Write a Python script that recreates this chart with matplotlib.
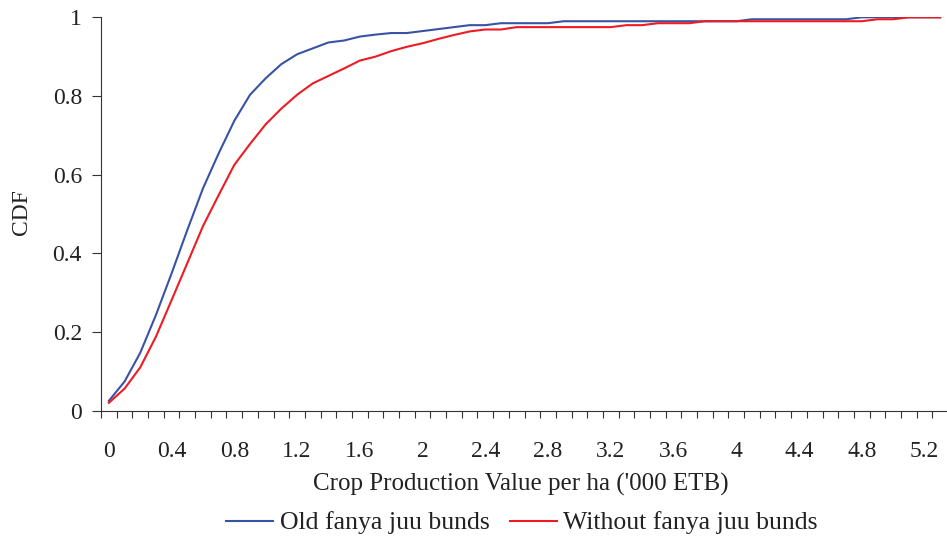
import matplotlib
matplotlib.use("Agg")
import matplotlib.pyplot as plt

categories = ["0", "0.1", "0.2", "0.3", "0.4", "0.5", "0.6", "0.7", "0.8", "0.9",
              "1", "1.1", "1.2", "1.3", "1.4", "1.5", "1.6", "1.7", "1.8", "1.9",
              "2", "2.1", "2.2", "2.3", "2.4", "2.5", "2.6", "2.7", "2.8", "2.9",
              "3", "3.1", "3.2", "3.3", "3.4", "3.5", "3.6", "3.7", "3.8", "3.9",
              "4", "4.1", "4.2", "4.3", "4.4", "4.5", "4.6", "4.7", "4.8", "4.9",
              "5", "5.1", "5.2", "5.3"]

old_bunds = [0.025, 0.074, 0.147, 0.243, 0.349, 0.459, 0.565, 0.654, 0.737, 0.803,
             0.845, 0.881, 0.906, 0.921, 0.936, 0.941, 0.951, 0.956, 0.960, 0.960,
             0.965, 0.970, 0.975, 0.980, 0.980, 0.985, 0.985, 0.985, 0.985, 0.990,
             0.990, 0.990, 0.990, 0.990, 0.990, 0.990, 0.990, 0.990, 0.990, 0.990,
             0.990, 0.995, 0.995, 0.995, 0.995, 0.995, 0.995, 0.995, 1.000, 1.000,
             1.000, 1.000, 1.000, 1.000]

without_bunds = [0.020, 0.056, 0.110, 0.188, 0.281, 0.375, 0.469, 0.548, 0.625, 0.678,
                 0.728, 0.768, 0.803, 0.832, 0.851, 0.870, 0.890, 0.900, 0.914, 0.925,
                 0.934, 0.945, 0.955, 0.964, 0.969, 0.969, 0.975, 0.975, 0.975, 0.975,
                 0.975, 0.975, 0.975, 0.980, 0.980, 0.985, 0.985, 0.985, 0.990, 0.990,
                 0.990, 0.990, 0.990, 0.990, 0.990, 0.990, 0.990, 0.990, 0.990, 0.995,
                 0.995, 1.000, 1.000, 1.000]

y_ticks = [0, 0.2, 0.4, 0.6, 0.8, 1]
y_tick_labels = ["0", "0.2", "0.4", "0.6", "0.8", "1"]
label_every = 4

plt.rcParams['font.family'] = ['Liberation Serif', 'DejaVu Serif']
FS = 17
FS_BIG = 18
FS_LEG = 18.5
AX_COLOR = '#333333'
TXT = '#222222'

fig = plt.figure(figsize=(9.47, 5.39), dpi=100)
ax = fig.add_axes([101 / 947, 128.3 / 539, 847 / 947, 393.4 / 539])

idx = list(range(len(categories)))
ax.plot(idx, old_bunds, color='#3953A4', lw=1.5, label='Old fanya juu bunds')
ax.plot(idx, without_bunds, color='#ED1C24', lw=1.5, label='Without fanya juu bunds')

ax.set_xlim(-0.5, len(categories) - 0.5)
ax.set_ylim(0, 1)

# category labels every 4th category, tick marks at category boundaries
ax.set_xticks(idx[::label_every])
ax.set_xticklabels(categories[::label_every])
ax.set_xticks([i - 0.5 for i in range(len(categories) + 1)], minor=True)
ax.tick_params(axis='x', which='major', length=0, pad=22, labelsize=FS, colors=TXT)
ax.tick_params(axis='x', which='minor', length=4.8, width=0.8, direction='out', color=AX_COLOR)

ax.set_yticks(y_ticks)
ax.set_yticklabels(y_tick_labels)
ax.tick_params(axis='y', which='major', length=6.7, width=0.8, pad=7, labelsize=FS,
               direction='out', color=AX_COLOR, labelcolor=TXT)

for s in ['top', 'right']:
    ax.spines[s].set_visible(False)
for s in ['left', 'bottom']:
    ax.spines[s].set_color(AX_COLOR)
    ax.spines[s].set_linewidth(0.8)
ax.spines['bottom'].set_clip_on(False)

xl = ax.set_xlabel("Crop Production Value per ha ('000 ETB)", fontsize=FS_BIG, color=TXT)
ax.xaxis.set_label_coords(0.496, -0.2034)
xl.set_verticalalignment('baseline')

yl = ax.set_ylabel("CDF", fontsize=FS, color=TXT)
ax.yaxis.set_label_coords(-0.0933, 0.505)
yl.set_verticalalignment('center')

leg = fig.legend(loc='center', bbox_to_anchor=(522 / 947, 16 / 539), ncol=2,
                 frameon=False, fontsize=FS_LEG, handlelength=1.83, handletextpad=0.25,
                 columnspacing=0.8, borderaxespad=0, borderpad=0)
for t in leg.get_texts():
    t.set_color(TXT)

fig.savefig('out.png', dpi=100)
